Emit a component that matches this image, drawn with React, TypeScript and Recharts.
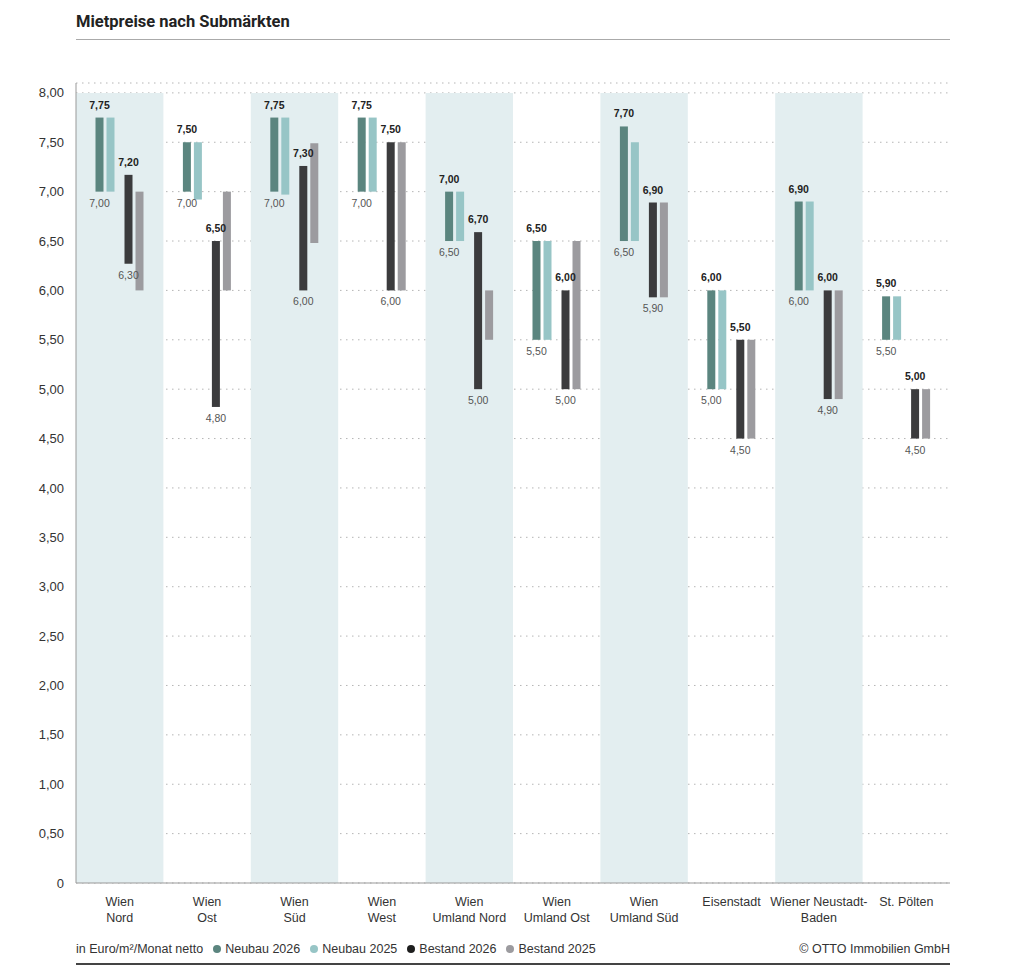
import React from 'react';
import {
  BarChart,
  Bar,
  XAxis,
  YAxis,
  CartesianGrid,
  ReferenceArea,
} from 'recharts';

const categories = [
  'Wien Nord',
  'Wien Ost',
  'Wien Süd',
  'Wien West',
  'Wien Umland Nord',
  'Wien Umland Ost',
  'Wien Umland Süd',
  'Eisenstadt',
  'Wiener Neustadt-Baden',
  'St. Pölten',
];

const tickLines = [
  ['Wien', 'Nord'],
  ['Wien', 'Ost'],
  ['Wien', 'Süd'],
  ['Wien', 'West'],
  ['Wien', 'Umland Nord'],
  ['Wien', 'Umland Ost'],
  ['Wien', 'Umland Süd'],
  ['Eisenstadt'],
  ['Wiener Neustadt-', 'Baden'],
  ['St. Pölten'],
];

// ranges (low / high)
const neubau2026Low = [7.0, 7.0, 7.0, 7.0, 6.5, 5.5, 6.5, 5.0, 6.0, 5.5];
const neubau2026High = [7.75, 7.5, 7.75, 7.75, 7.0, 6.5, 7.66, 6.0, 6.9, 5.94];
const neubau2025Low = [7.0, 6.92, 6.97, 7.0, 6.5, 5.5, 6.5, 5.0, 6.0, 5.5];
const neubau2025High = [7.75, 7.5, 7.75, 7.75, 7.0, 6.5, 7.5, 6.0, 6.9, 5.94];
const bestand2026Low = [6.27, 4.82, 6.0, 6.0, 5.0, 5.0, 5.93, 4.5, 4.9, 4.5];
const bestand2026High = [7.17, 6.5, 7.26, 7.5, 6.59, 6.0, 6.89, 5.5, 6.0, 5.0];
const bestand2025Low = [6.0, 6.0, 6.48, 6.0, 5.5, 5.0, 5.93, 4.5, 4.9, 4.5];
const bestand2025High = [7.0, 7.0, 7.49, 7.5, 6.0, 6.5, 6.89, 5.5, 6.0, 5.0];

// printed value labels
const neubau2026TopLabels = ['7,75', '7,50', '7,75', '7,75', '7,00', '6,50', '7,70', '6,00', '6,90', '5,90'];
const neubau2026BottomLabels = ['7,00', '7,00', '7,00', '7,00', '6,50', '5,50', '6,50', '5,00', '6,00', '5,50'];
const bestand2026TopLabels = ['7,20', '6,50', '7,30', '7,50', '6,70', '6,00', '6,90', '5,50', '6,00', '5,00'];
const bestand2026BottomLabels = ['6,30', '4,80', '6,00', '6,00', '5,00', '5,00', '5,90', '4,50', '4,90', '4,50'];

const yTicks = [0, 0.5, 1, 1.5, 2, 2.5, 3, 3.5, 4, 4.5, 5, 5.5, 6, 6.5, 7, 7.5, 8];

const COLORS = {
  neubau2026: '#5b857f',
  neubau2025: '#97c5c6',
  bestand2026: '#3b3b3d',
  bestand2025: '#9c9b9f',
  band: '#e3eef0',
};

const FONT = '"Liberation Sans", Arial, sans-serif';

const data = categories.map((name, i) => ({
  name,
  neubau2026: [neubau2026Low[i], neubau2026High[i]],
  neubau2025: [neubau2025Low[i], neubau2025High[i]],
  bestand2026: [bestand2026Low[i], bestand2026High[i]],
  bestand2025: [bestand2025Low[i], bestand2025High[i]],
}));

// Bars are declared 2025 first so the 2026 labels paint on top;
// the shift moves each bar back into its visual slot
// (order: Neubau 2026, Neubau 2025, gap, Bestand 2026, Bestand 2025).
const makeShape =
  (shift: number, topLabels?: string[], bottomLabels?: string[]) =>
  (props: any) => {
    const { x, y, width, height, fill, payload } = props;
    const i = categories.indexOf(payload?.name);
    const top = Math.min(y, y + height);
    const h = Math.abs(height);
    const cx = x + shift + width / 2;
    return (
      <g>
        <rect x={x + shift} y={top} width={width} height={h} fill={fill} />
        {topLabels && (
          <text
            x={cx}
            y={top - 9}
            textAnchor="middle"
            fontFamily={FONT}
            fontSize={10.5}
            fontWeight={700}
            fill="#222"
          >
            {topLabels[i]}
          </text>
        )}
        {bottomLabels && (
          <text
            x={cx}
            y={top + h + 15}
            textAnchor="middle"
            fontFamily={FONT}
            fontSize={10.5}
            fill="#555"
          >
            {bottomLabels[i]}
          </text>
        )}
      </g>
    );
  };

const CategoryTick = (props: any) => {
  const { x, y, payload } = props;
  const i = categories.indexOf(payload.value);
  const lines = tickLines[i] || [payload.value];
  return (
    <text x={x} y={y + 15} textAnchor="middle" fontFamily={FONT} fontSize={12.5} fill="#333">
      {lines.map((l, k) => (
        <tspan key={k} x={x} dy={k === 0 ? 0 : 16}>
          {l}
        </tspan>
      ))}
    </text>
  );
};

const legendItems = [
  { label: 'Neubau 2026', color: COLORS.neubau2026 },
  { label: 'Neubau 2025', color: COLORS.neubau2025 },
  { label: 'Bestand 2026', color: '#1e1e1e' },
  { label: 'Bestand 2025', color: COLORS.bestand2025 },
];

export default function App() {
  return (
    <div
      style={{
        position: 'absolute',
        left: 0,
        top: 0,
        width: 1024,
        height: 975,
        background: '#fff',
        fontFamily: FONT,
      }}
    >
      <div
        style={{
          position: 'absolute',
          left: 76,
          top: 12,
          fontFamily: 'Roboto, sans-serif',
          fontWeight: 700,
          fontSize: 16.5,
          color: '#222',
        }}
      >
        Mietpreise nach Submärkten
      </div>
      <div style={{ position: 'absolute', left: 76, top: 39, width: 874, height: 1, background: '#aaa' }} />

      <BarChart
        width={1024}
        height={975}
        data={data}
        margin={{ top: 83, right: 74, left: 0, bottom: 52 }}
        barSize={8}
        barGap={3}
      >
        {categories.map((c, i) =>
          i % 2 === 0 ? (
            <ReferenceArea
              key={c}
              x1={c}
              x2={c}
              y1={0}
              y2={8}
              fill={COLORS.band}
              fillOpacity={1}
              stroke="none"
              ifOverflow="visible"
            />
          ) : null
        )}
        <CartesianGrid vertical={false} stroke="#b5b5b5" strokeDasharray="1.5 4.5" />
        <XAxis
          dataKey="name"
          interval={0}
          tickLine={false}
          axisLine={{ stroke: '#999' }}
          height={40}
          tick={<CategoryTick />}
        />
        <YAxis
          domain={[0, 8.1]}
          ticks={yTicks}
          interval={0}
          width={76}
          tickLine={false}
          tickSize={0}
          tickMargin={12}
          axisLine={{ stroke: '#999' }}
          tick={{ fontFamily: FONT, fontSize: 13, fill: '#333' }}
          tickFormatter={(v: number) => (v === 0 ? '0' : v.toFixed(2).replace('.', ','))}
        />
        <Bar
          dataKey="neubau2025"
          fill={COLORS.neubau2025}
          isAnimationActive={false}
          shape={makeShape(7.5)}
        />
        <Bar
          dataKey="bestand2025"
          fill={COLORS.bestand2025}
          isAnimationActive={false}
          shape={makeShape(25.5)}
        />
        <Bar
          dataKey="neubau2026"
          fill={COLORS.neubau2026}
          isAnimationActive={false}
          shape={makeShape(-25.5, neubau2026TopLabels, neubau2026BottomLabels)}
        />
        <Bar
          dataKey="bestand2026"
          fill={COLORS.bestand2026}
          isAnimationActive={false}
          shape={makeShape(-7.5, bestand2026TopLabels, bestand2026BottomLabels)}
        />
      </BarChart>

      <div
        style={{
          position: 'absolute',
          left: 76,
          top: 941,
          display: 'flex',
          alignItems: 'center',
          fontSize: 12.5,
          color: '#333',
          lineHeight: '16px',
        }}
      >
        <span>in Euro/m²/Monat netto</span>
        {legendItems.map((it) => (
          <span key={it.label} style={{ display: 'flex', alignItems: 'center', marginLeft: 10 }}>
            <span
              style={{
                width: 8,
                height: 8,
                borderRadius: 4,
                background: it.color,
                marginRight: 4,
                display: 'inline-block',
              }}
            />
            {it.label}
          </span>
        ))}
      </div>
      <div
        style={{
          position: 'absolute',
          right: 1024 - 950,
          top: 941,
          fontSize: 12.5,
          color: '#333',
          lineHeight: '16px',
        }}
      >
        © OTTO Immobilien GmbH
      </div>
      <div style={{ position: 'absolute', left: 76, top: 963, width: 874, height: 1.5, background: '#444' }} />
    </div>
  );
}
